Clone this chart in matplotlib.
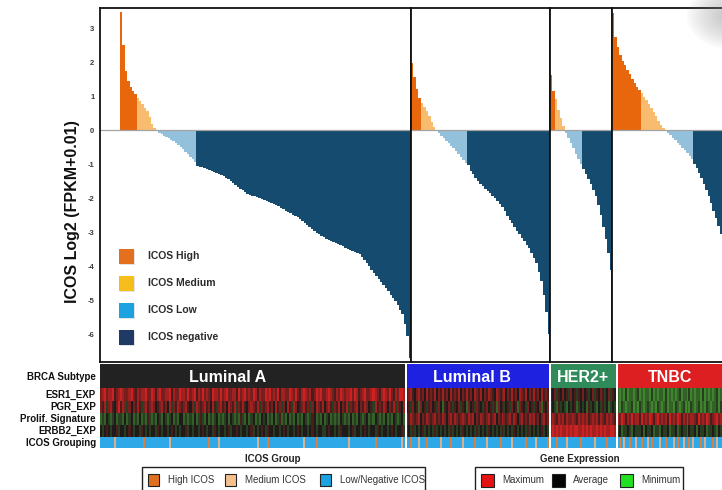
import numpy as np
import matplotlib
matplotlib.use("Agg")
import matplotlib.pyplot as plt
from matplotlib.colors import LinearSegmentedColormap, ListedColormap
from matplotlib.patches import Rectangle, Ellipse

plt.rcParams['font.family'] = ['Liberation Sans', 'DejaVu Sans']

# ---------------------------------------------------------------- data
subtypes = ["Luminal A", "Luminal B", "HER2+", "TNBC"]
icos_groups = ["ICOS High", "ICOS Medium", "ICOS Low", "ICOS negative"]

# ICOS log2(FPKM+0.01) per sample, sorted, split by ICOS group
lum_a_high = [3.47, 2.50, 1.75, 1.45, 1.28, 1.15, 1.05]
lum_a_medium = [0.95, 0.86, 0.78, 0.65, 0.55, 0.38, 0.18, 0.05]
lum_a_low = [-0.04, -0.08, -0.12, -0.16, -0.20, -0.24, -0.28, -0.33, -0.38,
             -0.44, -0.50, -0.56, -0.63, -0.70, -0.78, -0.86, -0.95]
lum_a_neg = [-1.05, -1.08, -1.10, -1.12, -1.15, -1.18, -1.21, -1.24, -1.27, -1.30,
             -1.33, -1.36, -1.40, -1.44, -1.49, -1.55, -1.61, -1.67, -1.72, -1.77,
             -1.82, -1.87, -1.91, -1.93, -1.95, -1.97, -1.99, -2.02, -2.05, -2.08,
             -2.11, -2.14, -2.17, -2.20, -2.24, -2.28, -2.32, -2.37, -2.41, -2.45,
             -2.49, -2.53, -2.57, -2.61, -2.67, -2.73, -2.79, -2.85, -2.91, -2.96,
             -3.02, -3.07, -3.11, -3.15, -3.19, -3.23, -3.26, -3.30, -3.33, -3.36,
             -3.39, -3.42, -3.46, -3.49, -3.52, -3.55, -3.58, -3.60, -3.63, -3.72,
             -3.82, -3.92, -4.01, -4.10, -4.19, -4.29, -4.39, -4.47, -4.56, -4.65,
             -4.74, -4.84, -4.94, -5.04, -5.15, -5.28, -5.42, -5.70, -6.05, -6.70]

lum_b_high = [1.97, 1.55, 1.20, 0.95]
lum_b_medium = [0.80, 0.68, 0.55, 0.40, 0.25, 0.10]
lum_b_low = [-0.04, -0.10, -0.17, -0.24, -0.31, -0.38, -0.46, -0.54, -0.62,
             -0.70, -0.78, -0.87, -0.96]
lum_b_neg = [-1.04, -1.20, -1.30, -1.40, -1.50, -1.58, -1.65, -1.72, -1.79, -1.86,
             -1.93, -2.00, -2.08, -2.16, -2.27, -2.39, -2.52, -2.64, -2.74, -2.85,
             -2.96, -3.07, -3.17, -3.27, -3.37, -3.48, -3.62, -3.76, -3.92, -4.17,
             -4.45, -4.85, -5.35, -6.00]

her2_high = [1.62, 1.15]
her2_medium = [0.90, 0.60, 0.35, 0.12]
her2_low = [-0.08, -0.22, -0.38, -0.54, -0.70, -0.85, -0.99]
her2_neg = [-1.15, -1.30, -1.45, -1.60, -1.75, -1.95, -2.20, -2.50, -2.85,
            -3.20, -3.60, -4.10]

tnbc_high = [3.43, 2.75, 2.45, 2.20, 2.02, 1.90, 1.78, 1.65, 1.50, 1.38, 1.28, 1.18]
tnbc_medium = [1.08, 0.98, 0.88, 0.78, 0.66, 0.54, 0.40, 0.27, 0.16, 0.06]
tnbc_low = [-0.03, -0.08, -0.15, -0.22, -0.30, -0.37, -0.44, -0.52, -0.60,
            -0.68, -0.77, -0.86]
tnbc_neg = [-1.00, -1.12, -1.26, -1.42, -1.58, -1.76, -1.95, -2.15, -2.37,
            -2.60, -2.82, -3.05]

# expression heat-map levels per sample (0 = minimum, 4 = average, 8 = maximum)
esr1_exp = {
    "Luminal A": ("6786778567" "8766786576" "7786687578" "6677857668" "7768678576"
                  "8676587768" "6786677586" "7867687576" "6878676857" "7668768657"
                  "8767568786" "6787657687" "6778687567" "8667876578" "7686576887"),
    "Luminal B": ("5675467564" "7565746575" "6475657465" "7564765746" "5765476567"
                  "4657564765" "7465756475" "65"),
    "HER2+": "546354645364535464534635465346354",
    "TNBC": ("2121312212" "3121221312" "1221312121" "2312213121" "2213121212" "312"),
}
pgr_exp = {
    "Luminal A": ("6573675468" "5763646575" "3675676456" "7564736576" "5675463765"
                  "6756475367" "5647657365" "7546765736" "5675647563" "6475376456"
                  "7563647657" "4675365746" "5736567465" "7645375657" "6465736547"),
    "Luminal B": ("4536452645" "3564536425" "4653546354" "2645365435" "6453526453"
                  "4536452654" "3645354625" "46"),
    "HER2+": "343253432434523434253432435342343",
    "TNBC": ("2132122312" "1321232121" "3212312213" "2123121321" "2312132122" "313"),
}
prolif_sig = {
    "Luminal A": ("2324323423" "3242342324" "2325323243" "2432342324" "4232324235"
                  "3242323423" "2342432325" "3242342324" "3423242352" "3242324232"
                  "4323542324" "2342323243" "2324232432" "3423243232" "4232432342"),
    "Luminal B": ("6576567465" "7656756576" "4675765676" "5767465765" "6756746576"
                  "5675764675" "6576756467" "56"),
    "HER2+": "676576757667657676756767576576765",
    "TNBC": ("7687576867" "7586768757" "8676758676" "8757686776" "5867687567" "867"),
}
erbb2_exp = {
    "Luminal A": ("4345434453" "4434543443" "5434344354" "3443454343" "4453434434"
                  "5434435434" "4345344543" "4434534345" "4354434434" "5434434543"
                  "4434543443" "3454434354" "4434534434" "5434435434" "4345434453"),
    "Luminal B": ("3435343453" "4343534343" "4353434354" "3434353434" "3543434353"
                  "4343543434" "3534343453" "43"),
    "HER2+": "787878778787887787878778787877887",
    "TNBC": ("3423343243" "3342433423" "3243342334" "2343324334" "2433423343" "243"),
}
# ICOS grouping per sample: H = high, M = medium, L = low/negative
icos_grouping = {
    "Luminal A": ("LLLLLLLMLL" "LLLLLLLLLL" "LHLLLLLLLL" "LLLLMLLLLL" "LLLLLLLLLL"
                  "LLLHLLLLML" "LLLLLLLLLL" "LLLLLLLMLL" "LLHLLLLLLL" "LLLLLLLLLL"
                  "MLLLLLHLLL" "LLLLLLLLLL" "LLMLLLLLLL" "LLLLLHLLLL" "LLLLLLLLML"),
    "Luminal B": ("LLHLLLMLLL" "HLLLLLLMLL" "LLHLLLLLML" "LLLLHLLLLL" "MLLLLLLHLL"
                  "LLLMLLLLLL" "HLLLLMLLLL" "LH"),
    "HER2+": "LLLHLLLLMLLLLLLHLLLLLLMLLLLLHLLLL",
    "TNBC": ("LHLMLLHLLM" "LLHLLMLHLL" "LMLLHLLLML" "HLLMLLHLML" "LLHLMLLLHL" "MLL"),
}
heat_rows = ["ESR1_EXP", "PGR_EXP", "Prolif. Signature", "ERBB2_EXP"]

# ---------------------------------------------------------------- styling
W, H = 722, 490
BAR_COLORS = ['#E8660C', '#F8BC6E', '#93C0DB', '#144B6E']
KEY_COLORS = ['#E2701E', '#F6BE1C', '#1AA3E0', '#1F3A64']
SUBTYPE_COLORS = ['#222222', '#1E22E0', '#2F8C5A', '#DE1F22']
ICOS_COLORS = ['#2EA8E6', '#D98040', '#D9B08E']        # L, H, M
EXPR_CMAP = LinearSegmentedColormap.from_list(
    'expr', ['#4AA835', '#1E1B1B', '#CC2222'])
Y_MIN, Y_MAX = -6.82, 3.59


def box(x0, y0, x1, y1):
    """Pixel box (top-left origin) -> figure fraction rect."""
    return [x0 / W, 1 - y1 / H, (x1 - x0) / W, (y1 - y0) / H]


fig = plt.figure(figsize=(W / 100, H / 100), dpi=100)

# ---------------------------------------------------------------- waterfall panels
panels = [
    ((lum_a_high, lum_a_medium, lum_a_low, lum_a_neg), (100, 411), (120, 411)),
    ((lum_b_high, lum_b_medium, lum_b_low, lum_b_neg), (411, 550), (411, 550)),
    ((her2_high, her2_medium, her2_low, her2_neg), (550, 612), (550, 612)),
    ((tnbc_high, tnbc_medium, tnbc_low, tnbc_neg), (612, 722), (612, 722)),
]

for i, (groups, (x0, x1), (b0, b1)) in enumerate(panels):
    ax = fig.add_axes(box(x0, 8, x1, 362))
    vals = np.concatenate([np.asarray(g, float) for g in groups])
    cols = np.repeat(BAR_COLORS, [len(g) for g in groups])
    n = len(vals)
    bw = (b1 - b0) / n
    ax.bar(np.arange(n), vals, width=1.0, color=cols, linewidth=0,
           antialiased=False, zorder=2)
    ax.set_xlim(-0.5 - (b0 - x0) / bw, -0.5 + (x1 - b0) / bw)
    ax.set_ylim(Y_MIN, Y_MAX)
    ax.axhline(0, color='#a3a3a3', lw=0.9, zorder=3)
    ax.set_xticks([])
    for side, sp in ax.spines.items():
        sp.set_color('#111111')
        sp.set_linewidth(1.3)
        sp.set_zorder(4)
    if i == len(panels) - 1:
        ax.spines['right'].set_visible(False)
    if i == 0:
        ax.set_yticks(range(-6, 4))
        ax.set_yticklabels([str(v) for v in range(-6, 4)],
                           fontsize=5.5, fontweight='bold', color='#3a3a3a')
        ax.tick_params(axis='y', length=0, pad=4)
    else:
        ax.set_yticks([])

# ---------------------------------------------------------------- annotation heat-map
blocks = [(100, 405, 228), (406.5, 549, 472), (550.5, 616, 583), (617.5, 722, 670)]
row_edges = [0, 13, 25, 37, 49, 60]
icos_index = {'L': 0, 'H': 1, 'M': 2}
icos_cmap = ListedColormap(ICOS_COLORS)

for name, color, (x0, x1, xc) in zip(subtypes, SUBTYPE_COLORS, blocks):
    sax = fig.add_axes(box(x0, 364.5, x1, 388))
    sax.set_facecolor(color)
    sax.set_xticks([])
    sax.set_yticks([])
    for sp in sax.spines.values():
        sp.set_visible(False)

    hax = fig.add_axes(box(x0, 388, x1, 448))
    hax.set_xlim(0, 1)
    hax.set_ylim(row_edges[-1], 0)
    hax.axis('off')
    for r, table in enumerate([esr1_exp, pgr_exp, prolif_sig, erbb2_exp]):
        lv = np.array([int(c) for c in table[name]], float)
        xe = np.linspace(0, 1, len(lv) + 1)
        hax.pcolormesh(xe, row_edges[r:r + 2], lv[None, :], cmap=EXPR_CMAP,
                       vmin=0, vmax=8, shading='flat', antialiased=False)
    grp = np.array([icos_index[c] for c in icos_grouping[name]], float)
    xe = np.linspace(0, 1, len(grp) + 1)
    hax.pcolormesh(xe, row_edges[4:6], grp[None, :], cmap=icos_cmap,
                   vmin=-0.5, vmax=2.5, shading='flat', antialiased=False)

# ---------------------------------------------------------------- overlay text / keys
ov = fig.add_axes([0, 0, 1, 1])
ov.set_xlim(0, W)
ov.set_ylim(H, 0)
ov.axis('off')

ov.text(72, 212, "ICOS Log2 (FPKM+0.01)", rotation=90, ha='center', va='center',
        fontsize=11.5, fontweight='bold', color='#111111')

for name, xc in zip(subtypes, [b[2] for b in blocks]):
    ov.text(xc, 377, name, ha='center', va='center', fontsize=11.5,
            fontweight='bold', color='white')

row_label_y = [376.5, 394.5, 407, 419, 431, 442.5]
for lbl, yy in zip(["BRCA Subtype"] + heat_rows + ["ICOS Grouping"], row_label_y):
    ov.text(96, yy, lbl, ha='right', va='center', fontsize=7,
            fontweight='bold', color='#111111')

# ICOS group key inside the waterfall
key_y = [249, 276, 303, 330]
for lbl, c, yy in zip(icos_groups, KEY_COLORS, key_y):
    ov.add_patch(Rectangle((119.5, yy + 1), 15, 15, facecolor='#d8d8d8',
                           edgecolor='none', alpha=0.7))
    ov.add_patch(Rectangle((118.5, yy), 15, 15, facecolor=c, edgecolor='none'))
    ov.text(148, yy + 6.5, lbl, ha='left', va='center', fontsize=7.5,
            fontweight='bold', color='#2b2b2b')

# bottom keys
ov.text(273, 459, "ICOS Group", ha='center', va='center', fontsize=7,
        fontweight='bold', color='#222222')
ov.add_patch(Rectangle((142, 467), 283, 40, facecolor='white',
                       edgecolor='#222222', lw=1.0))
for lbl, c, xx in zip(["High ICOS", "Medium ICOS", "Low/Negative ICOS"],
                      ['#E0701E', '#F6C08E', '#1AA3E0'], [148, 225, 320]):
    ov.add_patch(Rectangle((xx, 473.5), 11, 12, facecolor=c,
                           edgecolor='#222222', lw=0.8))
    ov.text(xx + 20, 480, lbl, ha='left', va='center', fontsize=7,
            color='#333333')

ov.text(580, 459, "Gene Expression", ha='center', va='center', fontsize=7,
        fontweight='bold', color='#222222')
ov.add_patch(Rectangle((475, 467), 208, 40, facecolor='white',
                       edgecolor='#222222', lw=1.0))
for lbl, c, xx in zip(["Maximum", "Average", "Minimum"],
                      ['#E41414', '#050505', '#22E022'], [481, 552, 620]):
    ov.add_patch(Rectangle((xx, 473.5), 13, 13, facecolor=c,
                           edgecolor='#222222', lw=0.8))
    ov.text(xx + 21, 480, lbl, ha='left', va='center', fontsize=7,
            color='#333333')

# soft grey shading in the top-right corner, built from stacked translucent ellipses
for k in range(14):
    s = 1.0 - k / 14.0
    ov.add_patch(Ellipse((732, 16), 90 * s, 66 * s, facecolor='#8a8a8a',
                         edgecolor='none', alpha=0.045, zorder=10))

fig.savefig("out.png", dpi=100)
